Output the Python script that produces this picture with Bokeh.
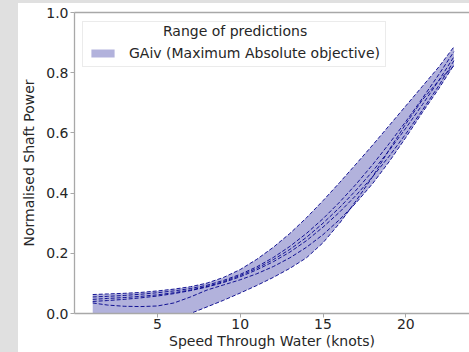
import numpy as np
from bokeh.plotting import figure
from bokeh.models import (Range1d, FixedTicker, LinearAxis, Legend, LegendItem,
                          Spacer, PrintfTickFormatter, Label)
from bokeh.layouts import row, column
from bokeh.embed import file_html
from bokeh.resources import INLINE

# ---------------- data ----------------
speed = [1.1, 2, 3, 4, 5, 6, 7, 8, 9, 10, 11, 12, 13, 14, 15, 16, 17, 18, 19, 20, 21, 22, 22.9]

pred_a = [0.063, 0.065, 0.067, 0.070, 0.075, 0.081, 0.089, 0.101, 0.120, 0.146, 0.180, 0.220,
          0.266, 0.318, 0.375, 0.435, 0.497, 0.560, 0.625, 0.690, 0.755, 0.820, 0.886]
pred_b = [0.055, 0.057, 0.060, 0.064, 0.069, 0.075, 0.083, 0.094, 0.110, 0.130, 0.155, 0.186,
          0.223, 0.266, 0.315, 0.370, 0.430, 0.495, 0.565, 0.638, 0.715, 0.795, 0.870]
pred_c = [0.047, 0.050, 0.053, 0.057, 0.062, 0.069, 0.078, 0.090, 0.106, 0.126, 0.150, 0.179,
          0.213, 0.253, 0.300, 0.352, 0.410, 0.473, 0.542, 0.616, 0.694, 0.775, 0.853]
pred_d = [0.040, 0.043, 0.047, 0.052, 0.058, 0.066, 0.076, 0.088, 0.103, 0.122, 0.145, 0.172,
          0.204, 0.242, 0.287, 0.337, 0.393, 0.455, 0.523, 0.597, 0.676, 0.758, 0.840]
pred_e = [0.035, 0.028, 0.024, 0.023, 0.025, 0.035, 0.055, 0.078, 0.095, 0.112, 0.132, 0.156,
          0.185, 0.220, 0.262, 0.312, 0.368, 0.432, 0.505, 0.585, 0.668, 0.748, 0.826]
pred_f = [-0.130, -0.110, -0.090, -0.068, -0.046, -0.023, 0.000, 0.022, 0.044, 0.068, 0.093, 0.120,
          0.150, 0.185, 0.235, 0.300, 0.375, 0.455, 0.545, 0.630, 0.710, 0.775, 0.823]

x_ticks = [5, 10, 15, 20]
y_ticks = [0.0, 0.2, 0.4, 0.6, 0.8, 1.0]

legend_title = "Range of predictions"
series_label = "GAiv (Maximum Absolute objective)"
x_label = "Speed Through Water (knots)"
y_label = "Normalised Shaft Power"

# ---------------- plot ----------------
FONT = "DejaVu Sans"
TXT = "#262626"
SPINE = "#a8a8a8"
BLUE = "#00008b"

preds = np.array([pred_a, pred_b, pred_c, pred_d, pred_e, pred_f])
lower = preds.min(axis=0)
upper = preds.max(axis=0)

p = figure(width=451, height=349, x_range=Range1d(0, 23.84), y_range=Range1d(0, 1),
           toolbar_location=None, output_backend="svg",
           min_border_left=50, min_border_right=0, min_border_top=9, min_border_bottom=39)
p.outline_line_color = None
p.xgrid.visible = False
p.ygrid.visible = False
p.background_fill_color = "white"
p.border_fill_color = "white"

band = p.varea(x=speed, y1=lower, y2=upper, fill_color=BLUE, fill_alpha=0.3)
for pr in preds:
    p.line(speed, list(pr), line_color=BLUE, line_dash="4 2", line_width=1.0, line_alpha=0.9)

for ax in (p.xaxis[0], p.yaxis[0]):
    ax.axis_line_color = SPINE
    ax.axis_line_width = 1.3
    ax.major_tick_line_color = SPINE
    ax.major_tick_out = 4
    ax.major_tick_in = 0
    ax.minor_tick_line_color = None
    ax.major_label_text_font = FONT
    ax.major_label_text_font_size = "14px"
    ax.major_label_text_color = TXT
    ax.axis_label_text_font = FONT
    ax.axis_label_text_font_size = "14px"
    ax.axis_label_text_color = TXT
    ax.axis_label_text_font_style = "normal"

p.xaxis[0].ticker = FixedTicker(ticks=x_ticks)
p.yaxis[0].ticker = FixedTicker(ticks=y_ticks)
p.yaxis[0].formatter = PrintfTickFormatter(format="%.1f")
p.xaxis[0].axis_label = x_label
p.yaxis[0].axis_label = y_label
p.xaxis[0].major_label_standoff = 1
p.xaxis[0].axis_label_standoff = 1
p.yaxis[0].major_label_standoff = 2
p.yaxis[0].axis_label_standoff = 6

top = LinearAxis(ticker=FixedTicker(ticks=[]), axis_line_color=SPINE, axis_line_width=1.3,
                 major_tick_out=0, major_tick_in=0, minor_tick_line_color=None,
                 major_label_text_font_size="0px", major_label_standoff=0)
p.add_layout(top, "above")

# legend (title space reserved; the visible title is drawn centred on top of the box)
legend = Legend(items=[LegendItem(label=series_label, renderers=[band])],
                location=(8, 246), title=legend_title,
                title_text_font=FONT, title_text_font_size="14px", title_text_font_style="normal",
                title_text_color=TXT, title_text_alpha=0.0, title_standoff=2,
                label_text_font=FONT, label_text_font_size="14px", label_text_color=TXT,
                glyph_width=29, glyph_height=10, label_standoff=12, padding=5, spacing=0,
                border_line_color="#d8d8d8", border_line_width=1,
                background_fill_alpha=0.0)
p.add_layout(legend, "center")

title_label = Label(x=9.69, y=0.94, text=legend_title, text_align="center",
                    text_baseline="middle", text_font=FONT, text_font_size="14px",
                    text_color=TXT, level="overlay")
p.add_layout(title_label)

GRAY = "#e0e0e0"
layout = row(Spacer(width=18, height=352, styles={"background-color": GRAY}),
             column(Spacer(width=451, height=3, styles={"background-color": GRAY}), p))

open("out.html", "w").write(file_html(layout, INLINE))
